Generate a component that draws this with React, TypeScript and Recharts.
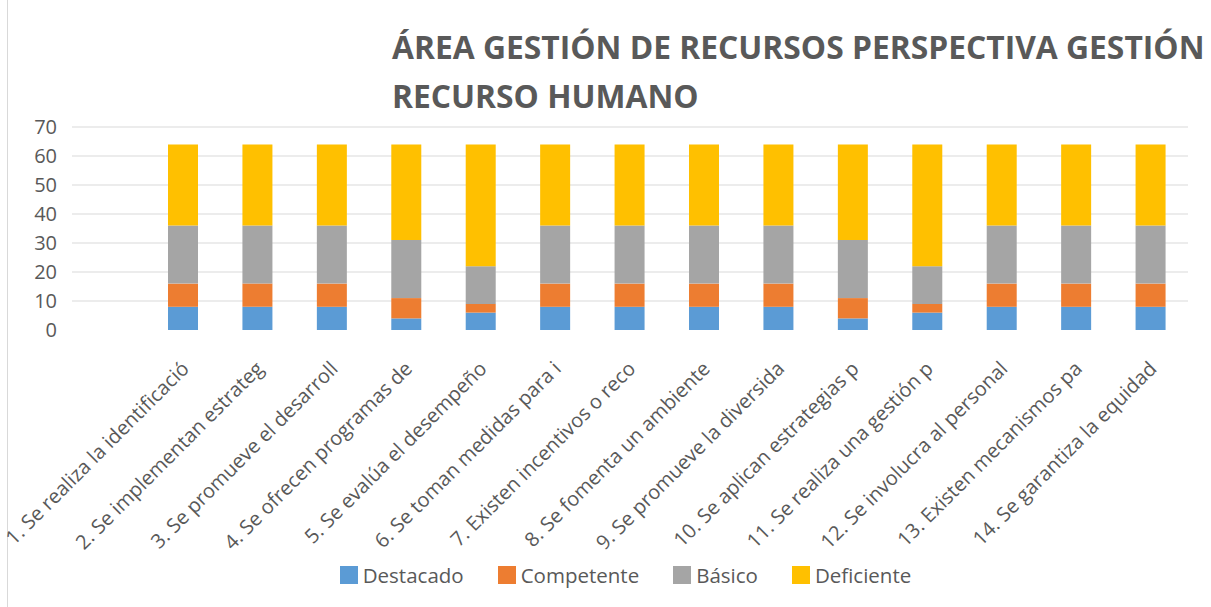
import { BarChart, Bar, XAxis, YAxis, CartesianGrid } from "recharts";

const categories = [
  "1. Se realiza la identificació",
  "2. Se implementan estrateg",
  "3. Se promueve el desarroll",
  "4. Se ofrecen programas de",
  "5. Se evalúa el desempeño",
  "6. Se toman medidas para i",
  "7. Existen incentivos o reco",
  "8. Se fomenta un ambiente",
  "9. Se promueve la diversida",
  "10. Se aplican estrategias p",
  "11. Se realiza una gestión p",
  "12. Se involucra al personal",
  "13. Existen mecanismos pa",
  "14. Se garantiza la equidad",
];

const destacado = [8, 8, 8, 4, 6, 8, 8, 8, 8, 4, 6, 8, 8, 8];
const competente = [8, 8, 8, 7, 3, 8, 8, 8, 8, 7, 3, 8, 8, 8];
const basico = [20, 20, 20, 20, 13, 20, 20, 20, 20, 20, 13, 20, 20, 20];
const deficiente = [28, 28, 28, 33, 42, 28, 28, 28, 28, 33, 42, 28, 28, 28];

const yTicks = [0, 10, 20, 30, 40, 50, 60, 70];

const series = [
  { key: "Destacado", color: "#5B9BD5" },
  { key: "Competente", color: "#ED7D31" },
  { key: "Básico", color: "#A5A5A5" },
  { key: "Deficiente", color: "#FFC000" },
];

const data = categories.map((name, i) => ({
  name,
  Destacado: destacado[i],
  Competente: competente[i],
  Básico: basico[i],
  Deficiente: deficiente[i],
}));

const FONT = "'Open Sans', sans-serif";
const TEXT = "#595959";

// rotated category label, anchored at its upper-right end like Excel
const AngledTick = (props: { x?: number; y?: number; payload?: { value: string } }) => {
  const { x = 0, y = 0, payload } = props;
  return (
    <g transform={`translate(${x + 7},${y + 32}) rotate(-45)`}>
      <text
        x={0}
        y={0}
        textAnchor="end"
        fill={TEXT}
        fontSize={20}
        fontFamily={FONT}
      >
        {payload?.value}
      </text>
    </g>
  );
};

export default function App() {
  return (
    <div
      style={{
        position: "absolute",
        left: 0,
        top: 0,
        width: 1211,
        height: 607,
        background: "#fff",
      }}
    >
      {/* chart frame edge */}
      <div
        style={{
          position: "absolute",
          left: 7,
          top: 0,
          width: 1,
          height: 607,
          background: "#d9d9d9",
        }}
      />
      <div
        style={{
          position: "absolute",
          left: 392,
          top: 22,
          fontFamily: FONT,
          fontWeight: 700,
          fontSize: 31.8,
          lineHeight: "49px",
          color: TEXT,
          whiteSpace: "nowrap",
        }}
      >
        ÁREA GESTIÓN DE RECURSOS PERSPECTIVA GESTIÓN
        <br />
        RECURSO HUMANO
      </div>
      <BarChart
        width={1211}
        height={607}
        data={data}
        margin={{ top: 127, right: 23, bottom: 0, left: 0 }}
        barSize={30}
      >
        <CartesianGrid
          vertical={false}
          stroke="#d9d9d9"
          horizontalValues={yTicks.filter((t) => t > 0)}
        />
        <XAxis
          dataKey="name"
          interval={0}
          axisLine={false}
          tickLine={false}
          padding={{ left: 74, right: 0 }}
          height={277}
          tick={<AngledTick />}
        />
        <YAxis
          domain={[0, 70]}
          ticks={yTicks}
          interval={0}
          width={72}
          axisLine={false}
          tickLine={false}
          tickMargin={9}
          tick={{ fill: TEXT, fontSize: 20, fontFamily: FONT }}
        />
        {series.map((s) => (
          <Bar
            key={s.key}
            dataKey={s.key}
            stackId="a"
            fill={s.color}
            isAnimationActive={false}
          />
        ))}
      </BarChart>
      <div
        style={{
          position: "absolute",
          top: 561,
          left: 40,
          width: 1171,
          display: "flex",
          justifyContent: "center",
          gap: 34,
          fontFamily: FONT,
          fontSize: 20.5,
          color: TEXT,
        }}
      >
        {series.map((s) => (
          <span key={s.key} style={{ display: "flex", alignItems: "center", gap: 5 }}>
            <span style={{ width: 18, height: 18, background: s.color, display: "inline-block" }} />
            {s.key}
          </span>
        ))}
      </div>
    </div>
  );
}
